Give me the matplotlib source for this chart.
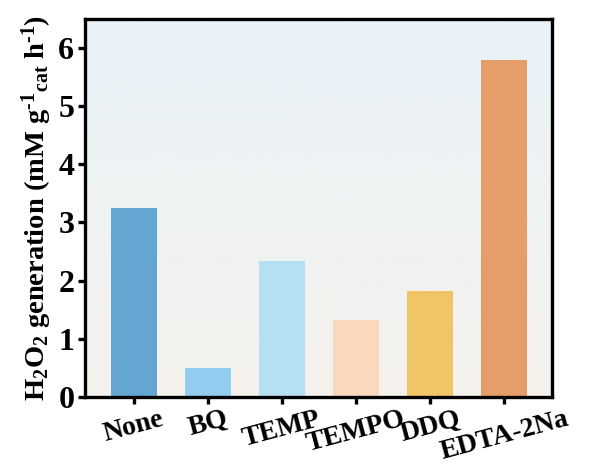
import numpy as np
import matplotlib.pyplot as plt
from matplotlib.colors import LinearSegmentedColormap

# scavenger experiment data
scavengers = ["None", "BQ", "TEMP", "TEMPO", "DDQ", "EDTA-2Na"]
h2o2_rate = [3.25, 0.50, 2.34, 1.32, 1.82, 5.79]
bar_colors = ["#63A6D2", "#92CDF0", "#B5DFF2", "#FAD8BC", "#EFC566", "#E59E6A"]

plt.rcParams["font.family"] = ["Liberation Serif", "DejaVu Serif"]
plt.rcParams["font.weight"] = "bold"
plt.rcParams["mathtext.fontset"] = "custom"
plt.rcParams["mathtext.rm"] = "Liberation Serif:bold"
plt.rcParams["mathtext.it"] = "Liberation Serif:bold"
plt.rcParams["mathtext.bf"] = "Liberation Serif:bold"

fig, ax = plt.subplots(figsize=(5.89, 4.68), dpi=100)
fig.subplots_adjust(left=0.145, right=0.938, top=0.96, bottom=0.152)

# gradient background
bg = LinearSegmentedColormap.from_list("bg", ["#F6F2EE", "#E8F2F8"])
grad = np.linspace(0, 1, 256).reshape(-1, 1)
ax.imshow(grad, cmap=bg, aspect="auto", origin="lower",
          extent=[0, 1, 0, 1], transform=ax.transAxes, zorder=0)

x = np.arange(len(scavengers))
ax.bar(x, h2o2_rate, width=0.62, color=bar_colors, zorder=2)

ax.set_xlim(-0.65, 5.65)
ax.set_ylim(0, 6.5)
ax.set_yticks(range(0, 7))
ax.set_xticks(x)
ax.set_xticklabels(scavengers, rotation=15, ha="center", fontsize=20, fontweight="bold")
for lab in ax.get_yticklabels():
    lab.set_fontsize(23)
    lab.set_fontweight("bold")

ax.set_ylabel(r"H$_2$O$_2$ generation (mM g$^{\text{-1}}$$_{\rm cat}$ h$^{\text{-1}}$)",
              fontsize=20.5, fontweight="bold", labelpad=3)

for s in ax.spines.values():
    s.set_linewidth(2.4)
    s.set_zorder(5)
ax.tick_params(axis="both", width=2.4, length=5, direction="out")
ax.tick_params(axis="x", pad=2)
ax.tick_params(axis="y", pad=3)

plt.savefig("out.png", dpi=100)
